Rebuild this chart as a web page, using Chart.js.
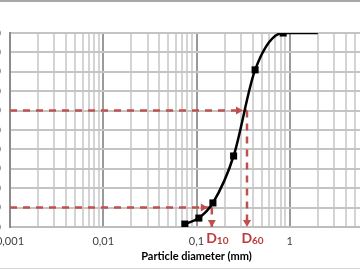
<!DOCTYPE html>
<html>
<head>
<meta charset="utf-8">
<script src="https://cdn.jsdelivr.net/npm/chart.js@4.4.1/dist/chart.umd.min.js"></script>
<style>
    body { margin: 0; background: #fff; }
    .frame { position: relative; width: 360px; height: 270px; overflow: hidden; background: #fff; }
    .frame canvas { position: absolute; left: -50px; top: 0; }
    .edge-top { position: absolute; left: 0; top: 0; width: 360px; height: 2px; background: #a8a8a8; }
    .edge-bottom { position: absolute; left: 0; top: 268px; width: 360px; height: 1px; background: #d6d6d6; }
</style>
</head>
<body>
<div class="frame">
    <canvas id="grading" width="453" height="270"></canvas>
    <div class="edge-top"></div>
    <div class="edge-bottom"></div>
</div>
<script>
// Data

const diameters = [0.075, 0.106, 0.15, 0.25, 0.425, 0.85, 2];
const passing = [1.5, 4.6, 12.4, 36.6, 81, 100, 100];
const markerSizes = [5, 5, 5, 5, 5, 5, 0];

const d10 = 0.146, d60 = 0.348;
const markLevels = [10, 60];
const markDiameters = [d10, d60];
const markNames = ["10", "60"];

const xDecades = [0.001, 0.01, 0.1, 1, 10];
const xTickLabels = ["0,001", "0,01", "0,1", "1", "10"];
const yTicks = [0, 10, 20, 30, 40, 50, 60, 70, 80, 90, 100];

const redDash = "#c0504d",
    redText = "#bb3b3b";

Chart.defaults.font.family = "Lato, 'Liberation Sans', sans-serif";
Chart.defaults.font.size = 11;
Chart.defaults.color = "#404040";

function isDecade(v) {
    let l = Math.log10(v);
    return Math.abs(l - Math.round(l)) < 1e-9;
}

function decadeIndex(v) {
    return xDecades.findIndex(d => Math.abs(Math.log10(d) - Math.log10(v)) < 1e-9);
}

// Dashed helper lines, one horizontal and one vertical per mark

let guideSets = [];
markLevels.forEach((level, i) => {
    guideSets.push({
        data: [{x: xDecades[0], y: level}, {x: markDiameters[i], y: level}],
        borderColor: redDash,
        borderWidth: 2.5,
        borderDash: [7, 6],
        pointRadius: 0,
        arrow: true,
        arrowGap: 4,
    });
    guideSets.push({
        data: [{x: markDiameters[i], y: level}, {x: markDiameters[i], y: yTicks[0]}],
        borderColor: redDash,
        borderWidth: 2.5,
        borderDash: [7, 6],
        pointRadius: 0,
        arrow: true,
        arrowGap: 0,
    });
});

const arrowHeads = {
    id: "arrowHeads",
    afterDatasetsDraw(chart) {
        const ctx = chart.ctx;
        chart.data.datasets.forEach((ds, i) => {
            if (!ds.arrow) return;
            let pts = chart.getDatasetMeta(i).data,
                a = pts[pts.length - 2],
                b = pts[pts.length - 1],
                ang = Math.atan2(b.y - a.y, b.x - a.x);

            ctx.save();
            ctx.fillStyle = ds.borderColor;
            ctx.translate(b.x - Math.cos(ang) * ds.arrowGap, b.y - Math.sin(ang) * ds.arrowGap);
            ctx.rotate(ang);
            ctx.beginPath();
            ctx.moveTo(0, 0);
            ctx.lineTo(-7, -4);
            ctx.lineTo(-7, 4);
            ctx.closePath();
            ctx.fill();
            ctx.restore();
        });
    }
};

const markLabels = {
    id: "markLabels",
    afterDraw(chart) {
        const ctx = chart.ctx,
            xScale = chart.scales.x,
            base = chart.chartArea.bottom + 16;

        markDiameters.forEach((v, i) => {
            let x = xScale.getPixelForValue(v);
            ctx.save();
            ctx.fillStyle = redText;
            ctx.textBaseline = "alphabetic";
            ctx.font = "bold 14px Lato, sans-serif";
            let wD = ctx.measureText("D").width;
            ctx.font = "bold 10px Lato, sans-serif";
            let wS = ctx.measureText(markNames[i]).width;
            let left = x + 5.5 - (wD + wS) / 2;
            ctx.font = "bold 14px Lato, sans-serif";
            ctx.fillText("D", left, base);
            ctx.font = "bold 10px Lato, sans-serif";
            ctx.fillText(markNames[i], left + wD, base + 1);
            ctx.restore();
        });
    }
};

let gradingChart = new Chart(document.getElementById("grading"), {
    type: "line",
    data: {
        datasets: [{
            data: diameters.map((d, i) => ({x: d, y: passing[i]})),
            borderColor: "#000",
            backgroundColor: "#000",
            borderWidth: 2.5,
            cubicInterpolationMode: "monotone",
            pointStyle: "rect",
            pointRadius: markerSizes,
            pointBorderWidth: 0,
        }, ...guideSets],
    },
    options: {
        responsive: false,
        animation: false,
        events: [],
        layout: {
            padding: {left: 5, right: 20, top: 33, bottom: 0},
        },
        plugins: {
            legend: {display: false},
            tooltip: {enabled: false},
        },
        scales: {
            x: {
                type: "logarithmic",
                min: xDecades[0],
                max: xDecades[xDecades.length - 1],
                afterBuildTicks: (scale) => {
                    let ticks = [];
                    for (let k = 0; k < xDecades.length - 1; k++) {
                        for (let m = 1; m < 10; m++) ticks.push({value: m * xDecades[k]});
                    }
                    ticks.push({value: xDecades[xDecades.length - 1]});
                    scale.ticks = ticks;
                },
                afterFit: (scale) => { scale.height = 43; },
                ticks: {
                    autoSkip: false,
                    maxRotation: 0,
                    padding: 8,
                    color: "#404040",
                    callback: (value) => isDecade(value) ? xTickLabels[decadeIndex(value)] : "",
                },
                grid: {
                    drawTicks: false,
                    lineWidth: 2,
                    color: (ctx) => ctx.tick && isDecade(ctx.tick.value) ? "#9a9a9a" : "#d4d4d4",
                },
                border: {color: "#bdbdbd", width: 2},
                title: {
                    display: true,
                    text: "Particle diameter (mm)",
                    color: "#000",
                    font: {weight: "bold", size: 11},
                    padding: {top: 0, bottom: 7},
                },
            },
            y: {
                min: yTicks[0],
                max: yTicks[yTicks.length - 1],
                afterBuildTicks: (scale) => { scale.ticks = yTicks.map(v => ({value: v})); },
                afterFit: (scale) => { scale.width = 55; },
                ticks: {padding: 9, color: "#404040"},
                grid: {drawTicks: false, lineWidth: 2, color: "#c4c4c4"},
                border: {color: "#8c8c8c", width: 2},
            },
        },
    },
    plugins: [arrowHeads, markLabels],
});
</script>
</body>
</html>
